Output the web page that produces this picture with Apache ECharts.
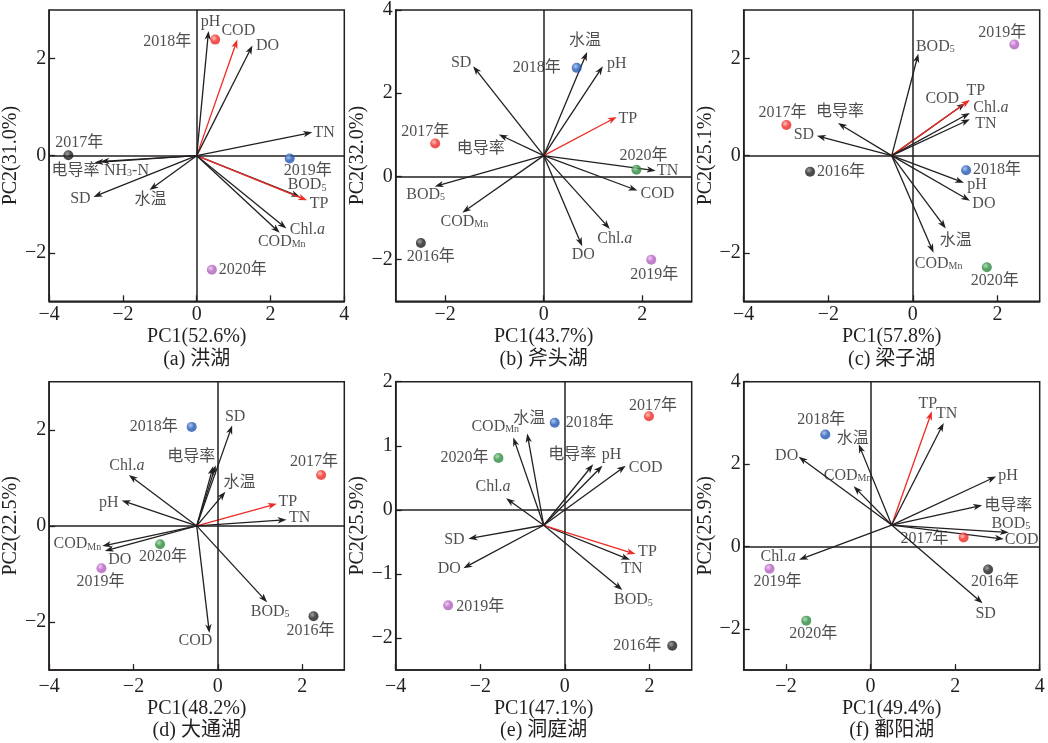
<!DOCTYPE html>
<html>
<head>
<meta charset="utf-8">
<script src="https://cdn.jsdelivr.net/npm/echarts@6/dist/echarts.min.js"></script>
<style>html,body{margin:0;padding:0;background:#fff;}#chart{width:1048px;height:743px;}</style>
</head>
<body>
<div id="chart"></div>
<script>
// ---------------- DATA ----------------
// (a) 洪湖
const A_VARS = ['pH','COD','DO','TN','电导率','NH3-N','SD','水温','BOD5','TP','Chl.a','CODMn'];
const A_VAR_PC1 = [0.32,1.10,1.51,3.13,-2.77,-2.61,-2.80,-1.28,2.80,2.99,2.43,2.25];
const A_VAR_PC2 = [2.57,2.39,2.27,0.48,-0.14,-0.12,-0.85,-0.71,-0.85,-0.92,-1.50,-1.59];
const A_ORIGIN = [0, 0];
const A_YEARS = ['2017年','2018年','2019年','2020年'];
const A_YEAR_PC1 = [-3.48,0.50,2.52,0.41];
const A_YEAR_PC2 = [0.01,2.39,-0.06,-2.35];
const A_X_RANGE = [-4, 4], A_X_TICKS = [-4,-2,0,2,4];
const A_Y_RANGE = [-3, 3], A_Y_TICKS = [-2,0,2];

// (b) 斧头湖
const B_VARS = ['水温','pH','SD','TP','电导率','TN','COD','BOD5','CODMn','Chl.a','DO'];
const B_VAR_PC1 = [0.88,1.20,-1.43,1.48,-0.91,2.27,1.90,-2.21,-1.65,1.34,0.78];
const B_VAR_PC2 = [2.99,2.65,2.65,1.43,1.01,0.14,-0.34,-0.24,-0.87,-1.26,-1.68];
const B_ORIGIN = [0, 0.5];
const B_YEARS = ['2016年','2017年','2018年','2019年','2020年'];
const B_YEAR_PC1 = [-2.49,-2.20,0.67,2.18,1.88];
const B_YEAR_PC2 = [-1.60,0.79,2.61,-2.00,0.16];
const B_X_RANGE = [-3, 3], B_X_TICKS = [-2,0,2];
const B_Y_RANGE = [-3, 4], B_Y_TICKS = [-2,0,2,4];

// (c) 梁子湖
const C_VARS = ['BOD5','COD','TP','Chl.a','TN','电导率','SD','pH','DO','水温','CODMn'];
const C_VAR_PC1 = [0.13,1.24,1.35,1.35,1.35,-1.77,-2.27,1.21,1.35,0.78,0.49];
const C_VAR_PC2 = [2.10,1.08,1.15,0.88,0.75,0.67,0.41,-0.56,-0.93,-1.50,-2.00];
const C_ORIGIN = [-0.5, 0];
const C_YEARS = ['2016年','2017年','2018年','2019年','2020年'];
const C_YEAR_PC1 = [-2.43,-2.99,1.26,2.40,1.75];
const C_YEAR_PC2 = [-0.33,0.63,-0.30,2.29,-2.30];
const C_X_RANGE = [-4, 3], C_X_TICKS = [-4,-2,0,2];
const C_Y_RANGE = [-3, 3], C_Y_TICKS = [-2,0,2];

// (d) 大通湖
const D_VARS = ['SD','电导率','NH3-N','Chl.a','水温','pH','TP','TN','CODMn','DO','BOD5','COD'];
const D_VAR_PC1 = [0.34,-0.11,-0.05,-2.11,0.18,-2.28,1.40,1.63,-2.74,-2.68,1.17,-0.20];
const D_VAR_PC2 = [2.09,1.24,1.26,1.06,0.71,0.53,0.46,0.13,-0.42,-0.52,-1.59,-2.23];
const D_ORIGIN = [-0.5, 0];
const D_YEARS = ['2016年','2017年','2018年','2019年','2020年'];
const D_YEAR_PC1 = [2.27,2.45,-0.62,-2.76,-1.37];
const D_YEAR_PC2 = [-1.88,1.06,2.06,-0.88,-0.38];
const D_X_RANGE = [-4, 3], D_X_TICKS = [-4,-2,0,2];
const D_Y_RANGE = [-3, 3], D_Y_TICKS = [-2,0,2];

// (e) 洞庭湖
const E_VARS = ['CODMn','水温','电导率','pH','COD','Chl.a','SD','DO','TN','TP','BOD5'];
const E_VAR_PC1 = [-1.22,-0.89,0.67,0.89,1.44,-1.39,-2.28,-2.40,1.54,1.67,1.36];
const E_VAR_PC2 = [1.13,1.19,0.71,0.69,0.69,0.18,-0.45,-0.91,-0.78,-0.69,-1.25];
const E_ORIGIN = [-0.5, -0.24];
const E_YEARS = ['2016年','2017年','2018年','2019年','2020年'];
const E_YEAR_PC1 = [2.54,1.99,-0.24,-2.76,-1.57];
const E_YEAR_PC2 = [-2.12,1.46,1.36,-1.49,0.81];
const E_X_RANGE = [-4, 3], E_X_TICKS = [-4,-2,0,2];
const E_Y_RANGE = [-2.5, 2], E_Y_TICKS = [-2,-1,0,1,2];

// (f) 鄱阳湖
const F_VARS = ['TP','TN','水温','DO','CODMn','pH','电导率','BOD5','COD','Chl.a','SD'];
const F_VAR_PC1 = [1.45,1.73,-0.28,-1.70,-0.40,2.97,2.64,3.27,3.15,-1.69,2.65];
const F_VAR_PC2 = [3.28,3.00,2.48,2.18,1.46,1.70,1.00,0.34,0.18,-0.32,-1.38];
const F_ORIGIN = [0.5, 0.52];
const F_YEARS = ['2016年','2017年','2018年','2019年','2020年'];
const F_YEAR_PC1 = [2.78,2.20,-1.07,-2.39,-1.52];
const F_YEAR_PC2 = [-0.56,0.22,2.72,-0.54,-1.80];
const F_X_RANGE = [-3, 4], F_X_TICKS = [-2,0,2,4];
const F_Y_RANGE = [-3, 4], F_Y_TICKS = [-2,0,2,4];

const X_NAMES = ['PC1(52.6%)','PC1(43.7%)','PC1(57.8%)','PC1(48.2%)','PC1(47.1%)','PC1(49.4%)'];
const Y_NAMES = ['PC2(31.0%)','PC2(32.0%)','PC2(25.1%)','PC2(22.5%)','PC2(25.9%)','PC2(25.9%)'];
const CAPTIONS = ['(a) 洪湖','(b) 斧头湖','(c) 梁子湖','(d) 大通湖','(e) 洞庭湖','(f) 鄱阳湖'];
// red-highlighted variables per panel
const A_RED = ['COD','TP'], B_RED = ['TP'], C_RED = ['TP'], D_RED = ['TP'], E_RED = ['TP'], F_RED = ['TP'];

// ---------------- STYLE (label placement offsets in px) ----------------
const A_VAR_OFF = [[2,-9],[1,-9],[15,0],[12,0],[-19,8],[26,9],[-13,2],[1,10],[7,-12],[12,3],[21,1],[2,9]];
const A_YEAR_OFF = [[11,-12],[-48,2],[18,12],[31,0]];
const B_VAR_OFF = [[-2,-11],[14,-2],[-12,-3],[11,2],[-18,14],[12,0],[20,3],[-9,8],[2,9],[5,10],[1,8]];
const B_YEAR_OFF = [[10,14],[-10,-12],[-40,0],[3,15],[7,-14]];
const C_VAR_OFF = [[17,-7],[-23,-4],[6,-9],[21,-5],[16,5],[2,-11],[-13,-1],[13,2],[14,3],[10,12],[5,11]];
const C_YEAR_OFF = [[31,0],[-4,-12],[31,0],[-12,-12],[8,13]];
const D_VAR_OFF = [[3,-9],[-22,-10],null,[-2,-9],[14,-9],[-13,2],[11,-2],[13,-2],[-25,-2],[15,9],[3,9],[-14,8]];
const D_YEAR_OFF = [[-3,15],[-7,-13],[-38,0],[-1,14],[3,13]];
const E_VAR_OFF = [[-18,-11],[2,-15],[-21,-10],[9,-11],[20,2],[-13,-12],[-14,1],[-14,1],[2,9],[12,-2],[11,10]];
const E_YEAR_OFF = [[-35,0],[4,-11],[35,0],[32,1],[-34,0]];
const F_VAR_OFF = [[-4,-8],[3,-9],[-6,-6],[-12,-1],[-6,-11],[12,-1],[26,0],[2,-9],[18,1],[-21,-3],[3,10]];
const F_YEAR_OFF = [[7,12],[-39,1],[-4,-15],[8,13],[7,13]];

const FONT = "'Liberation Serif','Times New Roman','Noto Sans CJK SC',serif";
const INK = '#231f20';
const RED = '#ee2b24';
const YEAR_COLORS = ['#1e1e1e','#ec2a25','#2357b3','#b25fbf','#2e8a3d'];
const YEAR_LIGHT = ['#8a8a8a','#ffb0a8','#9ab8f0','#ecc0f2','#9ad6a4'];

const GRID_LEFTS = [48.3, 395.7, 743.7];
const GRID_TOPS = [10, 381.7];
const GRID_W = 296, GRID_H = 291.3;
const Y_NAME_GAPS = [21, 24, 25];

const panels = [
  [A_VARS,A_VAR_PC1,A_VAR_PC2,A_ORIGIN,A_YEARS,A_YEAR_PC1,A_YEAR_PC2,A_X_RANGE,A_X_TICKS,A_Y_RANGE,A_Y_TICKS,A_RED,A_VAR_OFF,A_YEAR_OFF],
  [B_VARS,B_VAR_PC1,B_VAR_PC2,B_ORIGIN,B_YEARS,B_YEAR_PC1,B_YEAR_PC2,B_X_RANGE,B_X_TICKS,B_Y_RANGE,B_Y_TICKS,B_RED,B_VAR_OFF,B_YEAR_OFF],
  [C_VARS,C_VAR_PC1,C_VAR_PC2,C_ORIGIN,C_YEARS,C_YEAR_PC1,C_YEAR_PC2,C_X_RANGE,C_X_TICKS,C_Y_RANGE,C_Y_TICKS,C_RED,C_VAR_OFF,C_YEAR_OFF],
  [D_VARS,D_VAR_PC1,D_VAR_PC2,D_ORIGIN,D_YEARS,D_YEAR_PC1,D_YEAR_PC2,D_X_RANGE,D_X_TICKS,D_Y_RANGE,D_Y_TICKS,D_RED,D_VAR_OFF,D_YEAR_OFF],
  [E_VARS,E_VAR_PC1,E_VAR_PC2,E_ORIGIN,E_YEARS,E_YEAR_PC1,E_YEAR_PC2,E_X_RANGE,E_X_TICKS,E_Y_RANGE,E_Y_TICKS,E_RED,E_VAR_OFF,E_YEAR_OFF],
  [F_VARS,F_VAR_PC1,F_VAR_PC2,F_ORIGIN,F_YEARS,F_YEAR_PC1,F_YEAR_PC2,F_X_RANGE,F_X_TICKS,F_Y_RANGE,F_Y_TICKS,F_RED,F_VAR_OFF,F_YEAR_OFF]
];

function richName(n) {
  if (n === 'BOD5') return 'BOD{s|5}';
  if (n === 'CODMn') return 'COD{s|Mn}';
  if (n === 'NH3-N') return 'NH{s|3}-N';
  if (n === 'Chl.a') return 'Chl.{i|a}';
  return n;
}
const RICH = {
  s: { fontSize: 10, fontFamily: FONT, color: INK, verticalAlign: 'bottom', lineHeight: 16, padding:[0,0,0,0] },
  i: { fontSize: 16, fontFamily: FONT, color: INK, fontStyle: 'italic', lineHeight: 18 }
};
function minus(v) { return String(v).replace('-', '\u2212'); }

function renderArrow(params, api) {
  const o = api.coord([api.value(2), api.value(3)]);
  const e = api.coord([api.value(0), api.value(1)]);
  const color = api.value(4) ? RED : INK;
  const dx = e[0]-o[0], dy = e[1]-o[1];
  const L = Math.hypot(dx, dy) || 1;
  const ux = dx/L, uy = dy/L;
  const hl = 9, hw = 3.2;
  const bx = e[0]-ux*hl, by = e[1]-uy*hl;
  return { type: 'group', children: [
    { type: 'line', shape: { x1: o[0], y1: o[1], x2: bx+ux*3, y2: by+uy*3 }, style: { stroke: color, lineWidth: 1.3 } },
    { type: 'polygon', shape: { points: [[e[0],e[1]],[bx-uy*hw, by+ux*hw],[bx+ux*2.5, by+uy*2.5],[bx+uy*hw, by-ux*hw]] }, style: { fill: color } }
  ]};
}

const grids = [], xAxes = [], yAxes = [], series = [];
panels.forEach((p, i) => {
  const [vars, pc1, pc2, org, years, ypc1, ypc2, xr, xt, yr, yt, reds, voff, yoff] = p;
  const row = Math.floor(i/3), col = i%3;
  grids.push({ left: GRID_LEFTS[col], top: GRID_TOPS[row], width: GRID_W, height: GRID_H,
    show: true, borderColor: INK, borderWidth: 1.5, backgroundColor: 'transparent' });
  xAxes.push({ type: 'value', gridIndex: i, min: xr[0], max: xr[1],
    name: X_NAMES[i] + '\n' + CAPTIONS[i], nameLocation: 'middle', nameGap: row === 0 ? 18 : 23,
    nameTextStyle: { fontFamily: FONT, fontSize: 20, color: INK, lineHeight: row === 0 ? 23 : 22 },
    axisLine: { show: true, onZero: false, lineStyle: { color: INK, width: 1.5 } },
    axisTick: { show: true, inside: true, length: 6, lineStyle: { color: INK, width: 1.3 }, customValues: xt },
    axisLabel: { customValues: xt, formatter: minus, fontFamily: FONT, fontSize: 20, color: INK, margin: row === 0 ? 3 : 7 },
    splitLine: { show: false } });
  yAxes.push({ type: 'value', gridIndex: i, min: yr[0], max: yr[1],
    name: Y_NAMES[i], nameLocation: 'middle', nameGap: Y_NAME_GAPS[col],
    nameTextStyle: { fontFamily: FONT, fontSize: 20, color: INK },
    axisLine: { show: true, onZero: false, lineStyle: { color: INK, width: 1.5 } },
    axisTick: { show: true, inside: true, length: 6, lineStyle: { color: INK, width: 1.3 }, customValues: yt },
    axisLabel: { customValues: yt, formatter: minus, fontFamily: FONT, fontSize: 20, color: INK, margin: 3 },
    splitLine: { show: false } });

  // zero lines + variable labels
  series.push({ type: 'scatter', xAxisIndex: i, yAxisIndex: i, symbolSize: 0, silent: true, z: 3,
    data: vars.map((v, k) => ({ name: v, value: [pc1[k], pc2[k]],
      label: voff[k] ? { show: true, offset: voff[k] } : { show: false } })),
    label: { show: true, position: 'inside', formatter: (d) => richName(d.name),
      fontFamily: FONT, fontSize: 16, color: INK, rich: RICH },
    markLine: { silent: true, symbol: ['none','none'], label: { show: false }, animation: false,
      lineStyle: { color: INK, width: 1.5, type: 'solid' }, data: [{ xAxis: 0 }, { yAxis: 0 }] }
  });
  // arrows
  series.push({ type: 'custom', xAxisIndex: i, yAxisIndex: i, renderItem: renderArrow, clip: false, z: 4, silent: true,
    data: vars.map((v, k) => [pc1[k], pc2[k], org[0], org[1], reds.includes(v) ? 1 : 0]) });
  // year points
  series.push({ type: 'scatter', xAxisIndex: i, yAxisIndex: i, symbolSize: 10, z: 5, silent: true,
    data: years.map((y, k) => ({ name: y, value: [ypc1[k], ypc2[k]],
      itemStyle: { color: { type: 'radial', x: 0.38, y: 0.35, r: 0.65,
        colorStops: [{ offset: 0, color: YEAR_LIGHT[k] }, { offset: 0.55, color: YEAR_COLORS[k] }, { offset: 1, color: YEAR_COLORS[k] }] } },
      label: { show: true, offset: yoff[k] } })),
    label: { show: true, position: 'inside', formatter: '{b}', fontFamily: FONT, fontSize: 16, color: INK }
  });
});

const chart = echarts.init(document.getElementById('chart'), null, { renderer: 'canvas' });
chart.setOption({ animation: false, backgroundColor: '#fff', grid: grids, xAxis: xAxes, yAxis: yAxes, series: series });
</script>
</body>
</html>
